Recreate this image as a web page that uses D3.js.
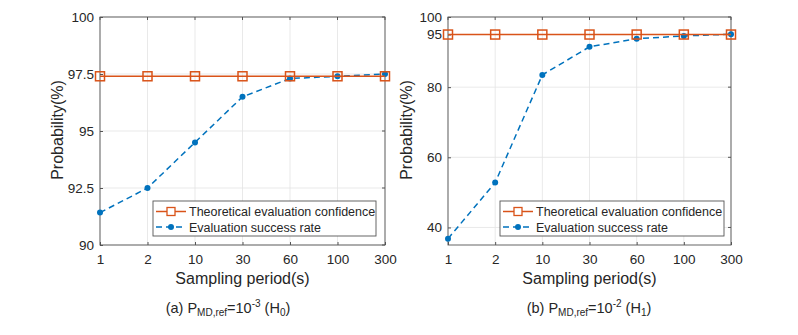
<!DOCTYPE html>
<html>
<head>
<meta charset="utf-8">
<script src="https://cdn.jsdelivr.net/npm/d3@7"></script>
<style>
  body { margin: 0; background: #fff; }
  svg { font-family: "Liberation Sans", Arial, sans-serif; }
</style>
</head>
<body>
<div id="chart"></div>
<script>
const periods = ["1", "2", "10", "30", "60", "100", "300"];

const confA = [97.4, 97.4, 97.4, 97.4, 97.4, 97.4, 97.4];
const successA = [91.42, 92.5, 94.5, 96.5, 97.3, 97.4, 97.5];
const ticksA = [90, 92.5, 95, 97.5, 100];

const confB = [95, 95, 95, 95, 95, 95, 95];
const successB = [36.8, 52.8, 83.5, 91.5, 93.8, 94.6, 95.1];
const ticksB = [40, 60, 80, 95, 100];

const orange = "#D95319";
const blue = "#0072BD";

const svg = d3.select("#chart").append("svg")
    .attr("width", 798)
    .attr("height", 335);

const panel = function(opts) {
    const x = d3.scalePoint().domain(periods).range([opts.left, opts.right]);
    const y = d3.scaleLinear().domain(opts.yDomain).range([245, 17]);
    const g = svg.append("g");

    // grid
    g.selectAll(".vgrid").data(periods).enter().append("line")
        .attr("x1", d => x(d)).attr("x2", d => x(d))
        .attr("y1", 17).attr("y2", 245)
        .attr("stroke", "#e3e3e3").attr("stroke-width", 0.8);
    g.selectAll(".hgrid").data(opts.ticks).enter().append("line")
        .attr("x1", opts.left).attr("x2", opts.right)
        .attr("y1", d => y(d)).attr("y2", d => y(d))
        .attr("stroke", "#e3e3e3").attr("stroke-width", 0.8);

    // axes
    const xAxis = d3.axisBottom(x).tickSizeInner(-3).tickSizeOuter(0).tickPadding(9);
    const yAxis = d3.axisLeft(y).tickValues(opts.ticks).tickSizeInner(-3).tickSizeOuter(0)
        .tickPadding(6).tickFormat(d => d3.format("")(d));
    const gx = g.append("g").attr("transform", "translate(0,245)").call(xAxis);
    const gy = g.append("g").attr("transform", `translate(${opts.left},0)`).call(yAxis);
    [gx, gy].forEach(a => {
        a.select(".domain").remove();
        a.selectAll("line").attr("stroke", "#555");
        a.selectAll("text").attr("fill", "#262626").attr("font-size", "13.5px")
            .attr("font-family", "Liberation Sans, Arial, sans-serif");
    });
    // top ticks
    g.selectAll(".ttick").data(periods).enter().append("line")
        .attr("x1", d => x(d)).attr("x2", d => x(d))
        .attr("y1", 17).attr("y2", 20).attr("stroke", "#555");
    g.selectAll(".rtick").data(opts.ticks).enter().append("line")
        .attr("x1", opts.right - 3).attr("x2", opts.right)
        .attr("y1", d => y(d)).attr("y2", d => y(d)).attr("stroke", "#555");

    g.append("rect")
        .attr("x", opts.left).attr("y", 17)
        .attr("width", opts.right - opts.left).attr("height", 228)
        .attr("fill", "none").attr("stroke", "#555").attr("stroke-width", 0.9);

    // lines
    const line = d3.line().x((d, i) => x(periods[i])).y(d => y(d));
    g.append("path").datum(opts.success)
        .attr("d", line).attr("fill", "none")
        .attr("stroke", blue).attr("stroke-width", 1.5).attr("stroke-dasharray", "6,4");
    g.selectAll(".dot").data(opts.success).enter().append("circle")
        .attr("cx", (d, i) => x(periods[i])).attr("cy", d => y(d))
        .attr("r", 3).attr("fill", blue);

    g.append("path").datum(opts.conf)
        .attr("d", line).attr("fill", "none")
        .attr("stroke", orange).attr("stroke-width", 1.5);
    g.selectAll(".sq").data(opts.conf).enter().append("rect")
        .attr("x", (d, i) => x(periods[i]) - 4.5).attr("y", d => y(d) - 4.5)
        .attr("width", 9).attr("height", 9)
        .attr("fill", "none").attr("stroke", orange).attr("stroke-width", 1.5);

    // axis labels
    g.append("text")
        .attr("x", (opts.left + opts.right) / 2).attr("y", 284)
        .attr("text-anchor", "middle").attr("font-size", "16px").attr("fill", "#262626")
        .text("Sampling period(s)");
    g.append("text")
        .attr("transform", `translate(${opts.ylabelX},130) rotate(-90)`)
        .attr("text-anchor", "middle").attr("font-size", "16px").attr("fill", "#262626")
        .text("Probability(%)");

    // legend
    const lg = g.append("g").attr("transform", `translate(${opts.legX},201)`);
    lg.append("rect").attr("width", opts.legW).attr("height", 35)
        .attr("fill", "#fff").attr("stroke", "#555").attr("stroke-width", 0.9);
    lg.append("line").attr("x1", 3).attr("x2", 33).attr("y1", 10.5).attr("y2", 10.5)
        .attr("stroke", orange).attr("stroke-width", 1.5);
    lg.append("rect").attr("x", 14).attr("y", 6.5).attr("width", 8).attr("height", 8)
        .attr("fill", "#fff").attr("stroke", orange).attr("stroke-width", 1.3);
    lg.append("line").attr("x1", 3).attr("x2", 33).attr("y1", 26).attr("y2", 26)
        .attr("stroke", blue).attr("stroke-width", 1.5).attr("stroke-dasharray", "6,4");
    lg.append("circle").attr("cx", 18).attr("cy", 26).attr("r", 3).attr("fill", blue);
    lg.append("text").attr("x", 36).attr("y", 15).attr("font-size", "12.5px").attr("fill", "#262626")
        .text("Theoretical evaluation confidence");
    lg.append("text").attr("x", 36).attr("y", 30.5).attr("font-size", "12.5px").attr("fill", "#262626")
        .text("Evaluation success rate");

    // caption
    const cap = g.append("text")
        .attr("x", opts.capX).attr("y", 313)
        .attr("text-anchor", "middle").attr("font-size", "14.5px").attr("fill", "#262626");
    cap.append("tspan").text(opts.capPrefix + "P");
    cap.append("tspan").attr("font-size", "10px").attr("dy", 3).text("MD,ref");
    cap.append("tspan").attr("dy", -3).text("=10");
    cap.append("tspan").attr("font-size", "10px").attr("dy", -6).text(opts.exp);
    cap.append("tspan").attr("dy", 6).text(" (H");
    cap.append("tspan").attr("font-size", "10px").attr("dy", 3).text(opts.h);
    cap.append("tspan").attr("dy", -3).text(")");
};

panel({
    left: 100, right: 385, yDomain: [90, 100], ticks: ticksA,
    conf: confA, success: successA, ylabelX: 63,
    legX: 153, legW: 223, capX: 228, capPrefix: "(a) ", exp: "-3", h: "0"
});

panel({
    left: 448, right: 731, yDomain: [35, 100], ticks: ticksB,
    conf: confB, success: successB, ylabelX: 412,
    legX: 500, legW: 224, capX: 589, capPrefix: "(b)  ", exp: "-2", h: "1"
});
</script>
</body>
</html>
